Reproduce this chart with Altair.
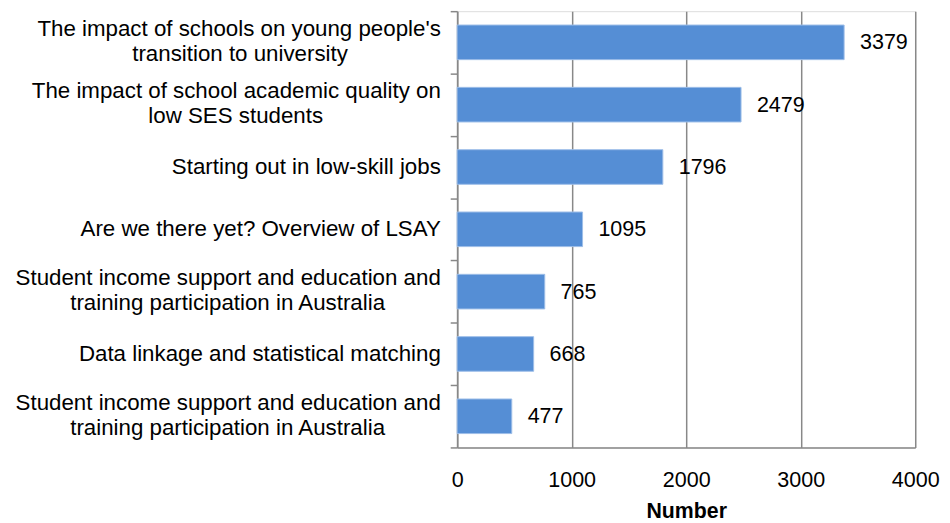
import json
import altair as alt
import pandas as pd

# ---- data ----
categories = [
    "The impact of schools on young people's\ntransition to university",
    "The impact of school academic quality on\nlow SES students",
    "Starting out in low-skill jobs",
    "Are we there yet? Overview of LSAY",
    "Student income support and education and\ntraining participation in Australia",
    "Data linkage and statistical matching",
    "Student income support and education and\ntraining participation in Australia",
]
values = [3379, 2479, 1796, 1095, 765, 668, 477]
x_ticks = [0, 1000, 2000, 3000, 4000]

# ---- helpers: centre lines of a multi-line label (Arial / Liberation Sans metrics) ----
W = {' ': 278, "'": 191, '?': 556, '.': 278, '-': 333,
     'a': 556, 'b': 556, 'c': 500, 'd': 556, 'e': 556, 'f': 278, 'g': 556, 'h': 556,
     'i': 222, 'j': 222, 'k': 500, 'l': 222, 'm': 833, 'n': 556, 'o': 556, 'p': 556,
     'q': 556, 'r': 333, 's': 500, 't': 278, 'u': 556, 'v': 500, 'w': 722, 'x': 500,
     'y': 500, 'z': 500, 'A': 667, 'D': 722, 'E': 667, 'L': 556, 'O': 778, 'S': 667,
     'T': 611, 'Y': 667}


def tw(s):
    return sum(W.get(c, 556) for c in s)


def centred(label):
    lines = label.split("\n")
    wmax = max(tw(l) for l in lines)
    out = []
    for l in lines:
        n = round((wmax - tw(l)) / 2 / 278)
        # trailing no-break spaces, guarded by a zero-width space so they are not trimmed
        out.append(l + "\u00a0" * n + ("\u200b" if n else ""))
    return out


LINE_H = 25
label_lines = [centred(c) for c in categories]
label_expr = json.dumps(label_lines, ensure_ascii=False) + "[datum.value]"
multi_idx = [i for i, c in enumerate(categories) if "\n" in c]
multi_test = " || ".join(f"datum.value == {i}" for i in multi_idx)

df = pd.DataFrame({"idx": list(range(len(categories))), "value": values})

FONT = "Liberation Sans"
GRAY = "#888888"

x_enc = alt.X(
    "value:Q",
    scale=alt.Scale(domain=[0, 4000], nice=False),
    axis=alt.Axis(
        title="Number",
        values=x_ticks,
        format="d",
        labelFont=FONT,
        labelFontSize=21.7,
        labelColor="black",
        labelPadding=22,
        labelFlush=False,
        ticks=False,
        domainColor=GRAY,
        domainWidth=1.5,
        grid=True,
        gridColor=GRAY,
        gridWidth=1.5,
        titleFont=FONT,
        titleFontSize=21.5,
        titleFontWeight="bold",
        titleColor="black",
        titlePadding=10,
    ),
)

# inner y axis: domain line and tick marks between the categories
tick_layer = alt.Chart(df).mark_rule(opacity=0).encode(
    y=alt.Y(
        "idx:O",
        sort="ascending",
        scale=alt.Scale(type="band", paddingInner=0, paddingOuter=0),
        axis=alt.Axis(
            orient="left",
            title=None,
            labels=False,
            domainColor=GRAY,
            domainWidth=1.5,
            tickColor=GRAY,
            tickWidth=1.5,
            tickSize=7,
            tickBand="extent",
            grid=False,
        ),
    ),
)

# bars + value labels, outer y axis carries the category labels
base = alt.Chart(df).encode(
    y=alt.Y(
        "idx:O",
        sort="ascending",
        scale=alt.Scale(paddingInner=0.445, paddingOuter=0.2225),
        axis=alt.Axis(
            orient="left",
            title=None,
            labelExpr=label_expr,
            labelFont=FONT,
            labelFontSize=22.5,
            labelColor="black",
            labelLineHeight=LINE_H,
            labelOffset={"condition": {"test": multi_test, "value": -LINE_H / 2 - 1}, "value": 0},
            labelPadding=17,
            labelLimit=600,
            domain=False,
            ticks=False,
            grid=False,
        ),
    ),
    x=x_enc,
)

bars = base.mark_bar(color="#558ed5", stroke="#9dbde8", strokeWidth=1)
texts = base.mark_text(
    align="left", baseline="middle", dx=16, font=FONT, fontSize=21.7, color="black"
).encode(text=alt.Text("value:Q", format="d"))

chart = (
    alt.layer(tick_layer, alt.layer(bars, texts))
    .resolve_scale(y="independent")
    .resolve_axis(y="independent")
    .properties(
        width=462,
        height=440,
        autosize=alt.AutoSizeParams(type="none"),
        padding={"left": 453, "top": 1, "right": 27, "bottom": 74},
    )
    .configure_view(stroke=None)
    .configure(background="white")
)

chart.save("out.html", embed_options={"renderer": "svg", "actions": False})
